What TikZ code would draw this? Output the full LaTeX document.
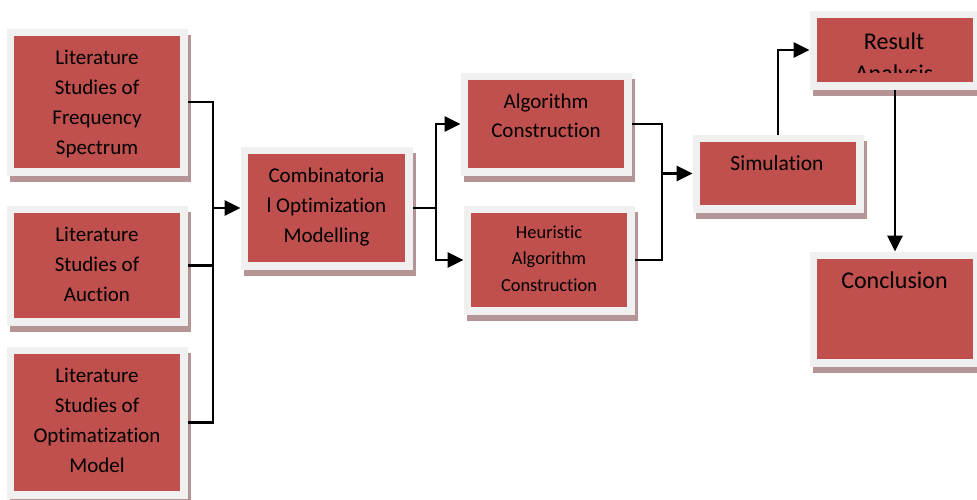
\documentclass[tikz,border=0pt]{standalone}
\usepackage{fontspec}
\setmainfont[Ligatures={NoCommon,NoContextual}]{Carlito}
\usetikzlibrary{arrows.meta,shadows}

\definecolor{boxred}{HTML}{C0504D}
\definecolor{framegray}{HTML}{F0F0F0}
\definecolor{shadowrose}{HTML}{B49494}

\tikzset{
  % light frame with a red face and a soft offset shadow
  panel/.style 2 args={rectangle, inner sep=0pt, outer sep=0pt,
    minimum width=#1pt, minimum height=#2pt, fill=framegray,
    general shadow={fill=shadowrose, shadow xshift=3pt, shadow yshift=-6.5pt},
    path picture={\fill[boxred]
      ([shift={(7.5pt,7.5pt)}]path picture bounding box.south west) rectangle
      ([shift={(-7.5pt,-7.5pt)}]path picture bounding box.north east);}},
  label text/.style={inner sep=0pt, align=center, text=black},
  body/.style={label text, font=\fontsize{21pt}{30pt}\selectfont},
  wire/.style={line width=2.7pt, line join=miter},
  flow/.style={wire, -{Triangle[length=16pt,width=15pt]}},
}

\begin{document}
\begin{tikzpicture}[x=1pt, y=-1pt]
\useasboundingbox (0,0) rectangle (977,499);

% boxes
\node[panel={181}{147}] (b1) at (97,102) {};
\node[panel={181}{120}] (b2) at (97,265.5) {};
\node[panel={181}{152}] (b3) at (97,422.5) {};
\node[panel={172}{123}] (comb) at (326.5,208) {};
\node[panel={171}{103}] (alg) at (546,124) {};
\node[panel={171}{109}] (heu) at (549,260) {};
\node[panel={171}{78}] (sim) at (778,173.5) {};
\node[panel={171}{79}] (res) at (895,50) {};
\node[panel={171}{115}] (conc) at (895,309) {};

% texts
\node[body] (t1) at (97,104) {Literature\\Studies of\\Frequency\\Spectrum};
\node[body] (t2) at (97,264) {Literature\\Studies of\\Auction};
\node[body] (t3) at (97,420) {Literature\\Studies of\\Optimatization\\Model};
\node[body] (t4) at (326.5,206.8) {Combinatoria\\l Optimization\\Modelling};
\node[label text, font=\fontsize{21pt}{29pt}\selectfont] (t5) at (546,116.2) {Algorithm\\Construction};
\node[label text, font=\fontsize{18.4pt}{26.5pt}\selectfont] (t6) at (549,258.3) {Heuristic\\Algorithm\\Construction};
\node[label text, font=\fontsize{21.5pt}{26pt}\selectfont] (t7) at (777,162.7) {Simulation};
\begin{scope}
  \clip (817,18) rectangle (973,72);
  \node[label text, font=\fontsize{24pt}{32pt}\selectfont] (t8) at (894,58.6) {Result\\Analysis};
\end{scope}
\node[label text, font=\fontsize{24pt}{30pt}\selectfont] (t9) at (894.5,279.8) {Conclusion};

% junction points of the connectors
\coordinate (j1) at (213,208);
\coordinate (j2) at (436,208);
\coordinate (j3) at (662,173.5);

% connectors
\draw[wire] (b1.east) -| (j1);
\draw[wire] (b2.east) -| (j1);
\draw[wire] (b3.east) -| (j1);
\draw[flow] (j1) -- (comb.west);
\draw[wire] (comb.east) -- (j2);
\draw[flow] (j2) |- (alg.west);
\draw[flow] (j2) |- (heu.west);
\draw[wire] (alg.east) -| (j3);
\draw[wire] (heu.east) -| (j3);
\draw[flow] (j3) -- (sim.west);
\draw[flow] (sim.north) |- (res.west);
\draw[flow] (res.south) -- (conc.north);
\end{tikzpicture}
\end{document}
